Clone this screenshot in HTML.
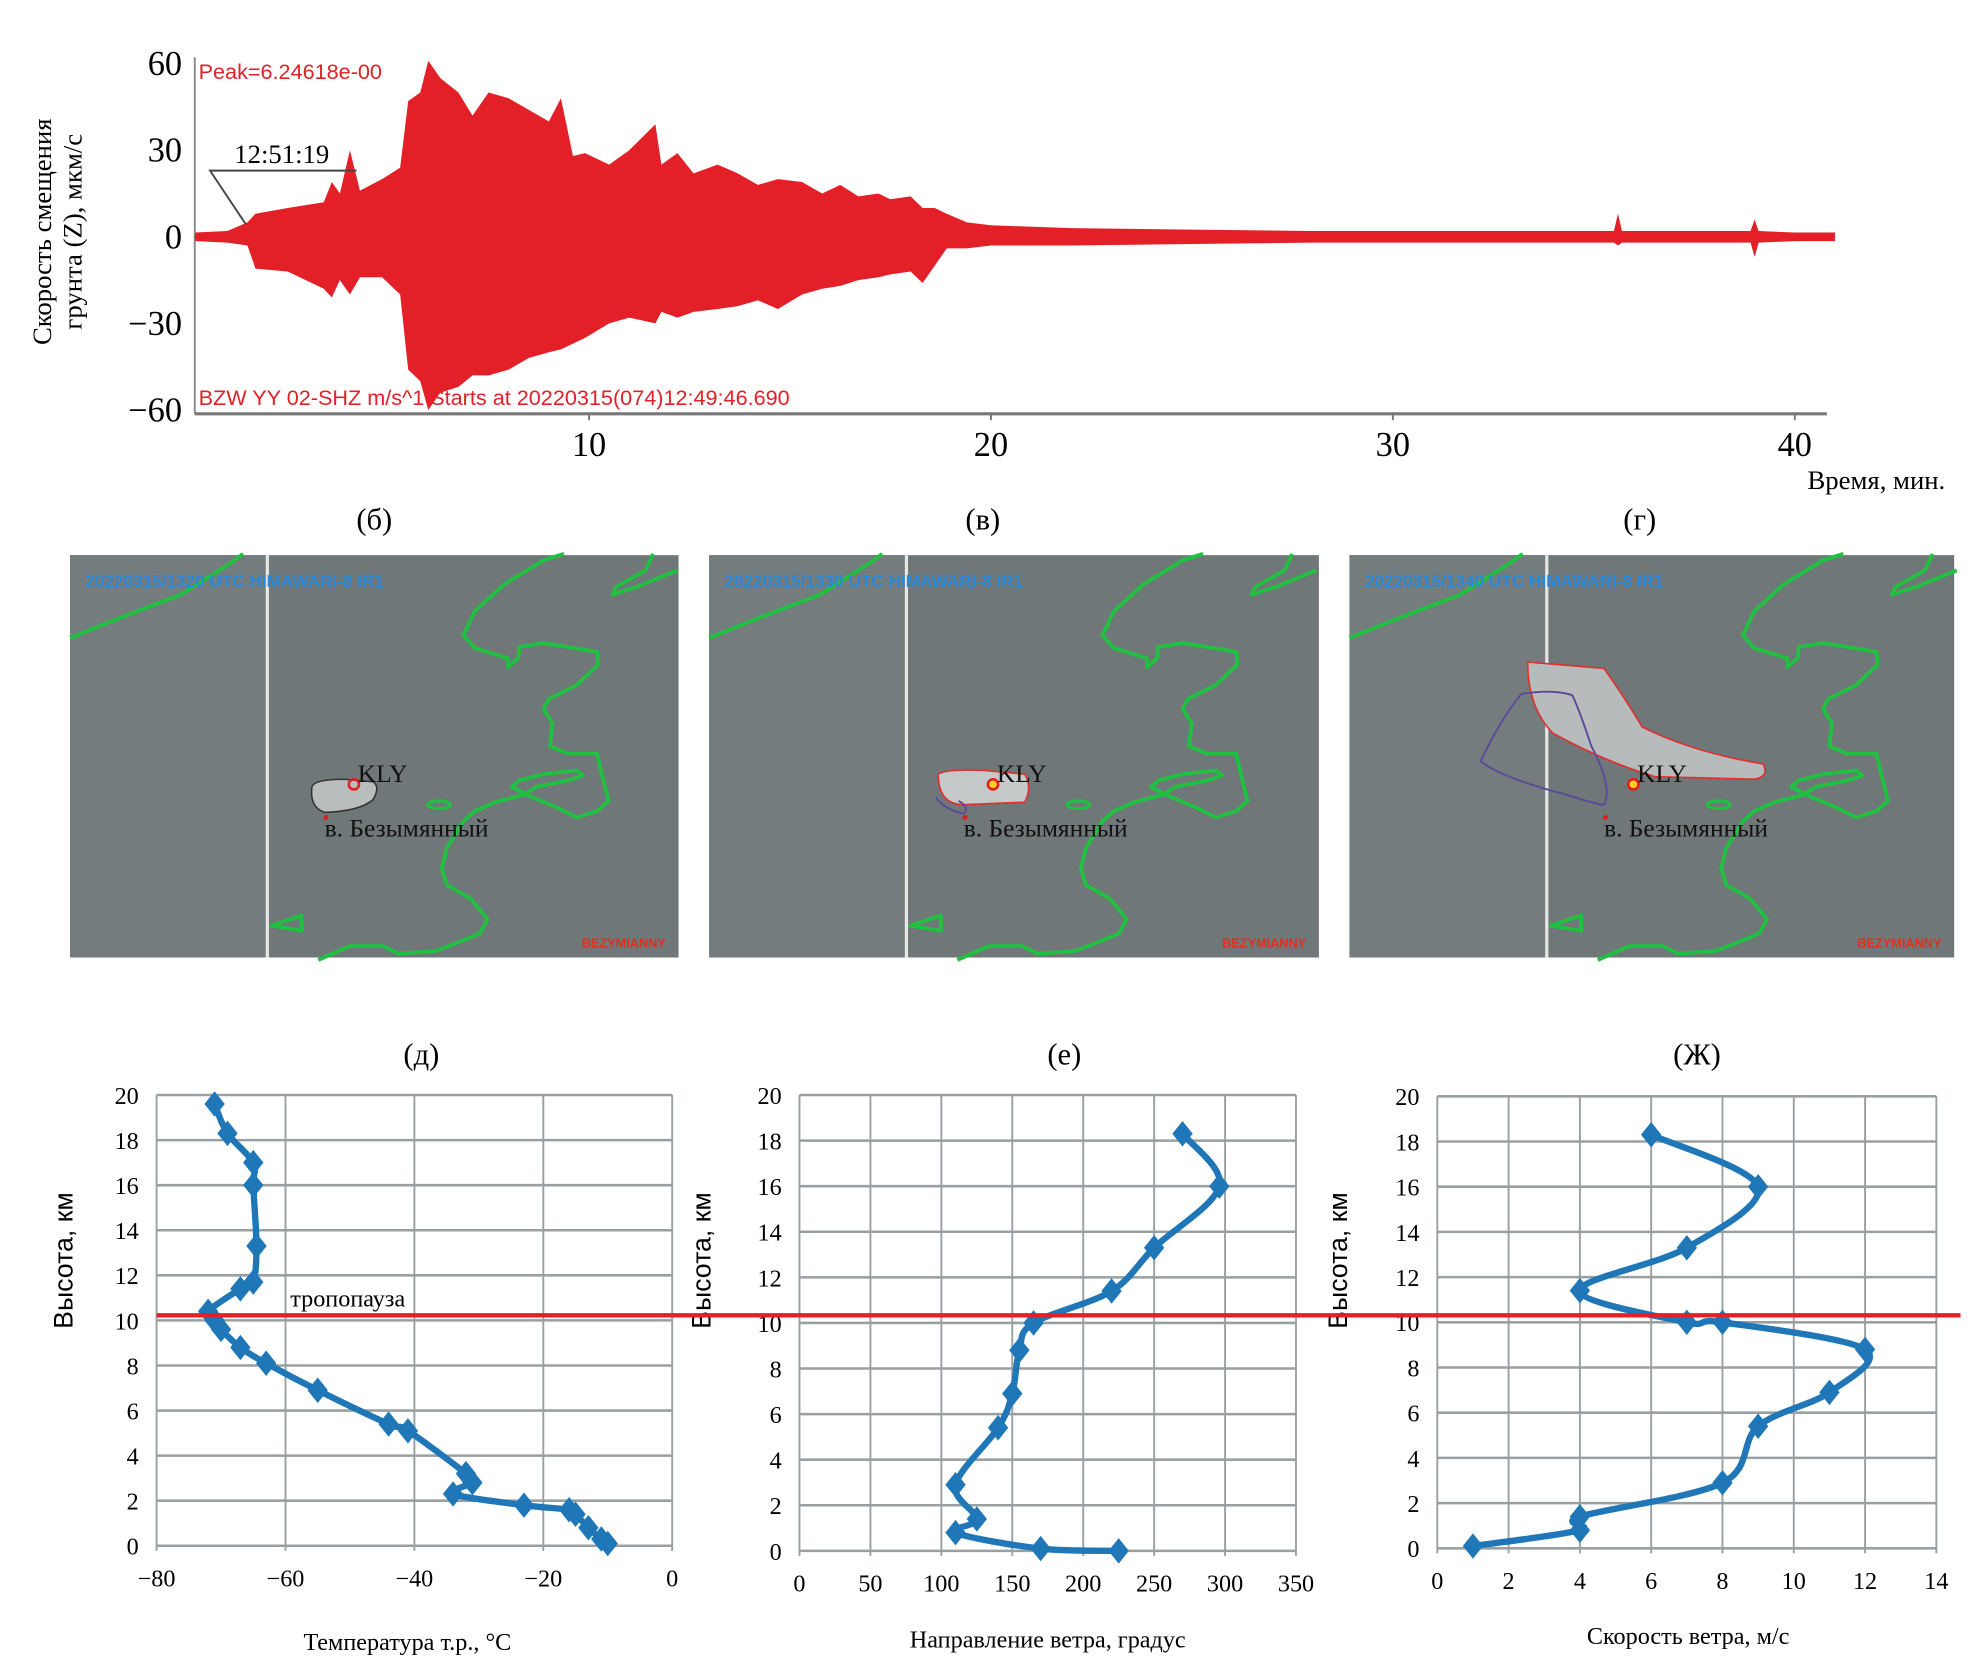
<!DOCTYPE html>
<html><head><meta charset="utf-8"><style>
html,body{margin:0;padding:0;background:#fff;}
svg{display:block;font-family:"Liberation Serif",serif;}
</style></head><body>
<svg id="fig" width="1986" height="1668" viewBox="0 0 1560 1310" preserveAspectRatio="none" xmlns="http://www.w3.org/2000/svg">
<g id="topchart"></g>
<g id="sats"></g>
<g id="profiles"></g>
</svg>
<script>
// ---- seismogram envelope data (minutes, µm/s) ----
const seisTime  = [0.2,1.0,1.5,1.7,2.5,3.4,3.6,3.8,4.05,4.3,4.85,5.3,5.5,5.8,6.0,6.3,6.75,7.1,7.5,8.0,8.5,9.0,9.3,9.6,9.9,10.5,11.0,11.65,11.8,12.2,12.6,13.2,13.7,14.2,14.7,15.3,15.8,16.25,16.7,17.2,17.5,18.0,18.3,18.6,18.9,19.4,20,22,25,28,30,33,35.5,35.6,35.7,38.9,39,39.1,40,41];
const seisUpper = [1.5,2,5,8,10,12,19,15,30,16,20,24,47,50,61,55,50,42,50,48,44,40,48,28,29,25,30,39,25,29,22,25,22,18,20,19,15,18,14,15,13,14,10,10,8,5,4,3,2.5,2,2,2,2,8,2,2,6,2,1.5,1.5];
const seisLower = [-1.5,-2,-3,-11,-12,-18,-21,-15,-20,-14,-14,-20,-46,-50,-60,-54,-52,-48,-48,-46,-42,-40,-39,-37,-35,-30,-28,-30,-26,-28,-26,-25,-24,-22,-25,-20,-18,-17,-15,-14,-13,-12,-16,-10,-4,-4,-3,-3,-2.5,-2,-2,-2,-2,-3,-2,-2,-7,-2,-1.5,-1.5];
const seisYTicks = [60,30,0,-30,-60];
const seisXTicks = [10,20,30,40];
// ---- profile data ----
const tempVals = [-71,-69,-65,-65,-64.5,-65,-67,-72,-71,-70,-67,-63,-55,-44,-41,-32,-31,-34,-23,-16,-15,-13,-11,-10];
const tempHts  = [19.6,18.3,17,16,13.3,11.7,11.4,10.4,10,9.6,8.8,8.1,6.9,5.4,5.1,3.2,2.8,2.3,1.8,1.6,1.4,0.8,0.3,0.1];
const dirVals  = [270,296,250,220,165,155,150,140,110,125,110,170,225];
const dirHts   = [18.3,16,13.3,11.4,10,8.8,6.9,5.4,2.9,1.4,0.8,0.1,0];
const spdVals  = [6,9,7,4,7,8,12,11,9,8,4,4,1];
const spdHts   = [18.3,16,13.3,11.4,10,10,8.8,6.9,5.4,2.9,1.4,0.8,0.1];
const tempTicks = [-80,-60,-40,-20,0];
const dirTicks  = [0,50,100,150,200,250,300,350];
const spdTicks  = [0,2,4,6,8,10,12,14];
const htTicks   = [0,2,4,6,8,10,12,14,16,18,20];
const tropopause = 10.3;

const NS="http://www.w3.org/2000/svg";
function mk(parent,tag,attrs,text){const e=document.createElementNS(NS,tag);for(const k in attrs)e.setAttribute(k,attrs[k]);if(text!==undefined)e.textContent=text;parent.appendChild(e);return e;}
function smooth(p){let d='M'+p[0][0]+','+p[0][1];for(let i=0;i<p.length-1;i++){const a=p[i-1]||p[i],b=p[i],c=p[i+1],e=p[i+2]||c;const t=6;d+=' C'+(b[0]+(c[0]-a[0])/t)+','+(b[1]+(c[1]-a[1])/t)+' '+(c[0]-(e[0]-b[0])/t)+','+(c[1]-(e[1]-b[1])/t)+' '+c[0]+','+c[1];}return d;}

// ---------- top seismogram ----------
const topG=document.getElementById('topchart');
const sx=t=>147+t*31.57, sy=v=>186-v*(136/60);
mk(topG,'line',{x1:153,y1:45,x2:153,y2:325,stroke:'#888','stroke-width':1.5});
let pts=[];
for(let i=0;i<seisTime.length;i++)pts.push(sx(seisTime[i])+','+sy(seisUpper[i]));
for(let i=seisTime.length-1;i>=0;i--)pts.push(sx(seisTime[i])+','+sy(seisLower[i]));
const env=mk(topG,'polygon',{points:pts.join(' '),fill:'#e32028'});


mk(topG,'line',{x1:153,y1:186,x2:1435,y2:186,stroke:'#e32028','stroke-width':2.5});
mk(topG,'line',{x1:153,y1:325,x2:1435,y2:325,stroke:'#777','stroke-width':2.5});
seisYTicks.forEach(v=>{
  const t=mk(topG,'text',{x:143,y:sy(v)+9,'text-anchor':'end','font-size':27},v<0?'\u2212'+(-v):String(v));
  
  
});
seisXTicks.forEach(v=>{
  mk(topG,'line',{x1:sx(v),y1:325,x2:sx(v),y2:330,stroke:'#777','stroke-width':1.5});
  const t=mk(topG,'text',{x:sx(v),y:358,'text-anchor':'middle','font-size':27},String(v));
  
  
});
mk(topG,'text',{x:156,y:62,fill:'#e32028','font-family':'Liberation Sans, sans-serif','font-size':17,},'Peak=6.24618e-00');
mk(topG,'text',{x:156,y:318,fill:'#e32028','font-family':'Liberation Sans, sans-serif','font-size':17,},'BZW YY 02-SHZ  m/s^1 Starts at 20220315(074)12:49:46.690');
mk(topG,'text',{x:184,y:128,'font-size':21,},'12:51:19');
mk(topG,'polyline',{points:'193,176 165,134 280,134',fill:'none',stroke:'#444','stroke-width':1.5});
mk(topG,'text',{x:1528,y:384,'text-anchor':'end','font-size':21,},'Время, мин.');
const yt=mk(topG,'text',{transform:'translate(40,182) rotate(-90)','text-anchor':'middle','font-size':21,});
mk(yt,'tspan',{x:0,dy:0},'Скорость смещения');
mk(yt,'tspan',{x:0,dy:24},'грунта (Z), мкм/с');

// ---------- satellite panels ----------
const sats=document.getElementById('sats');
const coast='M388,-1 L372,4 L341,23 L318,44 L309,63 L318,73 L344,81 L344,88 L352,81 L353,72 L372,69 L414,76 L415,86 L398,102 L376,113 L372,121 L379,132 L377,150 L391,156 L414,156 L417,169 L423,193 L414,201 L398,206 L382,198 L363,190 L347,182 L353,177 L372,172 L398,169 L403,173 L391,177 L366,182 L357,188 L334,194 L318,201 L309,209 L296,230 L292,246 L296,259 L315,270 L328,286 L322,297 L303,305 L287,311 L258,313 L246,307 L220,307 L195,318 M0,65 L40,49 L87,31 L125,7 L136,-1 M477,12 L445,25 L426,31 L429,25 L452,12 L458,-1 M158,291 L182,283 L182,295 Z';
const panels=[{x:55,w:478,lab:'(б)',lx:294,ts:'20220315/1320 UTC HIMAWARI-8 IR1'},{x:557,w:479,lab:'(в)',lx:772,ts:'20220315/1330 UTC HIMAWARI-8 IR1'},{x:1060,w:475,lab:'(г)',lx:1288,ts:'20220315/1340 UTC HIMAWARI-8 IR1'}];
panels.forEach((p,i)=>{
  const g=mk(sats,'g',{transform:`translate(${p.x},436)`});
  
  
  mk(g,'rect',{x:0,y:0,width:p.w,height:316,fill:'#6f7778'});
  mk(g,'rect',{x:0,y:0,width:155,height:316,fill:'#747c7d'});
  mk(g,'line',{x1:155,y1:0,x2:155,y2:316,stroke:'#e6e8e8','stroke-width':2.5});
  mk(g,'path',{d:coast,fill:'none',stroke:'#20c040','stroke-width':3,'stroke-linejoin':'round'});
  mk(g,'ellipse',{cx:290,cy:196,rx:9,ry:3,fill:'none',stroke:'#20c040','stroke-width':2.5});
  if(i===0){
    mk(g,'path',{d:'M190,182 Q192,176 215,176 L238,178 Q244,182 238,192 Q228,201 200,202 Q188,198 190,182Z',fill:'#b9bdbd',stroke:'#333','stroke-width':1.2});
  } else if(i===1){
    mk(g,'path',{d:'M180,172 Q185,168 215,169 L248,172 Q254,182 248,194 L200,196 Q180,196 180,172Z',fill:'#c5c9c9',stroke:'#e03030','stroke-width':1.3});
    mk(g,'path',{d:'M178,190 Q185,200 200,203 Q205,198 196,193',fill:'none',stroke:'#5a4a9a','stroke-width':1.5});
  } else {
    mk(g,'path',{d:'M140,84 L200,89 Q215,110 230,135 Q270,155 325,164 Q330,174 318,176 L240,174 Q200,162 160,140 Q140,120 140,84Z',fill:'#b7bbbb',stroke:'#e03030','stroke-width':1.3});
    mk(g,'path',{d:'M135,109 Q118,130 103,162 Q120,175 170,188 Q195,196 200,196 Q207,182 190,150 Q180,120 175,110 Q160,105 135,109',fill:'none',stroke:'#5a4a9a','stroke-width':1.5});
  }
  mk(g,'circle',{cx:223,cy:180,r:4,fill:i===0?'none':'#ffd020',stroke:'#e02020','stroke-width':2});
  mk(g,'circle',{cx:201,cy:206,r:2,fill:'#e02020'});
  mk(g,'text',{x:226,y:178,'font-size':20,fill:'#111',},'KLY');
  mk(g,'text',{x:200,y:221,'font-size':20,fill:'#111',},'в. Безымянный');
  mk(g,'text',{x:12,y:25,'font-size':13.5,fill:'#2a88d8','font-family':'Liberation Sans, sans-serif','font-weight':'bold',},p.ts);
  mk(g,'text',{x:p.w-10,y:308,'text-anchor':'end','font-size':10,fill:'#e03020','font-family':'Liberation Sans, sans-serif','font-weight':'bold',},'BEZYMIANNY');
  const t=mk(sats,'text',{x:p.lx,y:416,'text-anchor':'middle','font-size':24},p.lab);
  
  
});

// ---------- profile charts ----------
const prof=document.getElementById('profiles');
const charts=[
 {x0:123,x1:528,y20:860,y0:1214,min:-80,max:0,ticks:tempTicks,vals:tempVals,hts:tempHts,lab:'(д)',lx:331,title:'Температура т.р., °С',tx:320,ty:1296,ax:57},
 {x0:628,x1:1018,y20:860,y0:1218,min:0,max:350,ticks:dirTicks,vals:dirVals,hts:dirHts,lab:'(е)',lx:836,title:'Направление ветра, градус',tx:823,ty:1294,ax:558},
 {x0:1129,x1:1521,y20:861,y0:1216,min:0,max:14,ticks:spdTicks,vals:spdVals,hts:spdHts,lab:'(Ж)',lx:1333,title:'Скорость ветра, м/с',tx:1326,ty:1291,ax:1058}
];
charts.forEach((c,ci)=>{
  const g=mk(prof,'g',{});
  
  
  const X=v=>c.x0+(v-c.min)/(c.max-c.min)*(c.x1-c.x0);
  const Y=h=>c.y0+(c.y20-c.y0)*h/20;
  htTicks.forEach(h=>{
    mk(g,'line',{x1:c.x0,y1:Y(h),x2:c.x1,y2:Y(h),stroke:'#9aa0a2','stroke-width':2});
    const t=mk(g,'text',{x:c.x0-14,y:Y(h)+7,'text-anchor':'end','font-size':19},String(h));
    
    
  });
  c.ticks.forEach(v=>{
    mk(g,'line',{x1:X(v),y1:c.y20,x2:X(v),y2:c.y0+4,stroke:'#9aa0a2','stroke-width':1.5});
    const t=mk(g,'text',{x:X(v),y:c.y0+32,'text-anchor':'middle','font-size':19},v<0?'\u2212'+(-v):String(v));
    
    
  });
  const line=mk(g,'path',{d:smooth(c.vals.map((v,i)=>[X(v),Y(c.hts[i])])),fill:'none',stroke:'#1f77b8','stroke-width':5,'stroke-linejoin':'round'});
  
  
  c.vals.forEach((v,i)=>{
    const px=X(v),py=Y(c.hts[i]);
    const d=mk(g,'polygon',{points:`${px},${py-10} ${px+8},${py} ${px},${py+10} ${px-8},${py}`,fill:'#1f77b8'});
    
    
  });
  mk(g,'text',{x:c.lx,y:836,'text-anchor':'middle','font-size':24,},c.lab);
  mk(g,'text',{x:c.tx,y:c.ty,'text-anchor':'middle','font-size':19,},c.title);
  mk(g,'text',{transform:`translate(${c.ax},990) rotate(-90)`,'text-anchor':'middle','font-size':21,'font-family':'Liberation Sans, sans-serif',},'Высота, км');
});
const trop=mk(prof,'line',{x1:123,y1:1033,x2:1540,y2:1033,stroke:'#e32028','stroke-width':3.5});


mk(prof,'text',{x:228,y:1026,'font-size':19,},'тропопауза');
</script>
</body></html>
